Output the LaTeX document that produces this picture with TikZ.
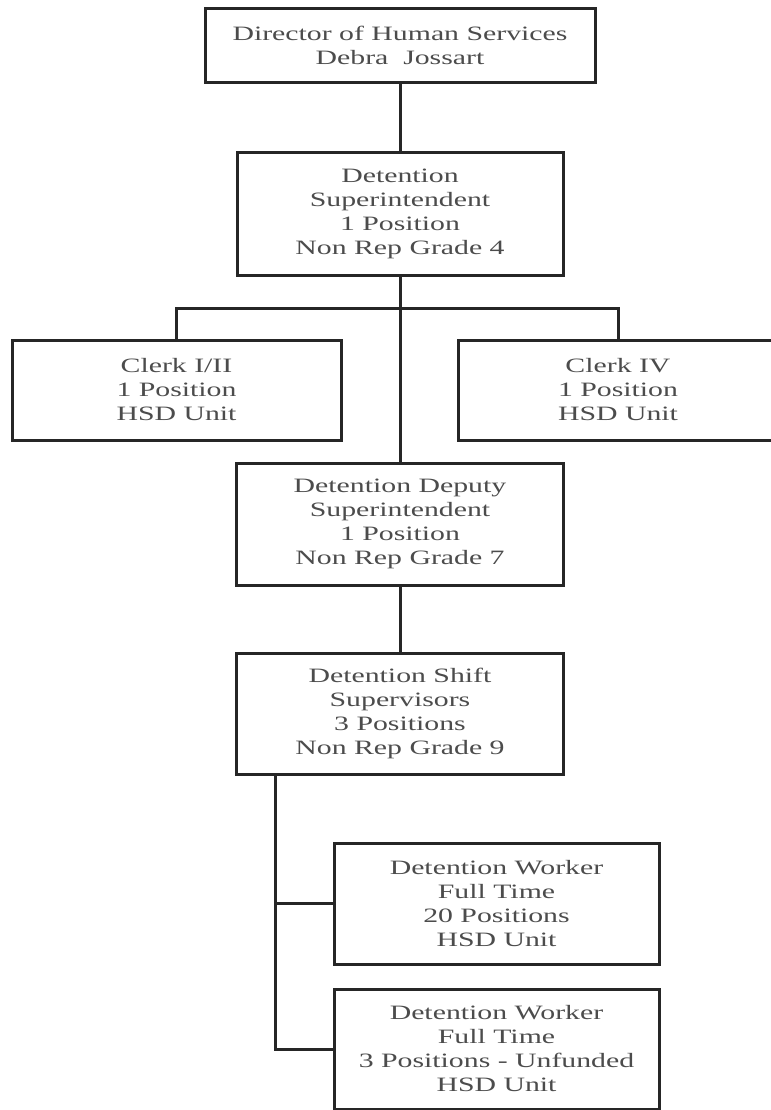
\documentclass[tikz,border=0pt]{standalone}
\usepackage{fontspec}
\newfontfamily\orgfont[FakeStretch=1.46]{Liberation Serif}

\begin{document}
\begin{tikzpicture}[x=0.5pt, y=-0.5pt,
                    post/.style={rectangle, draw=black!85, line width=1.5pt, text=black!70,
                                 align=center, inner sep=0pt,
                                 font=\orgfont\fontsize{10.2}{12}\selectfont},
                    link/.style={draw=black!85, line width=1.5pt}]

    \fill[white] (0,0) rectangle (771,1110);
    \useasboundingbox (0,0) rectangle (771,1110);

    % top of the chain
    \node[post, minimum width=195pt, minimum height=37pt]   (dir)    at (400,45)    {Director of Human Services\\Debra\ \ Jossart};
    \node[post, minimum width=163pt, minimum height=61.5pt] (sup)    at (400,213.5) {Detention\\Superintendent\\1 Position\\Non Rep Grade 4};

    % clerks hang off the bar
    \node[post, minimum width=164.5pt, minimum height=50pt] (clerkA) at (176.5,390) {Clerk I/II\\1 Position\\HSD Unit};
    \node[post, minimum width=160pt, minimum height=50pt]   (clerkB) at (618,390)   {Clerk IV\\1 Position\\HSD Unit};

    \node[post, minimum width=163.5pt, minimum height=61pt] (deputy) at (400,524)   {Detention Deputy\\Superintendent\\1 Position\\Non Rep Grade 7};
    \node[post, minimum width=163.5pt, minimum height=60.5pt] (shift) at (400,713.5) {Detention Shift\\Supervisors\\3 Positions\\Non Rep Grade 9};

    % workers
    \node[post, minimum width=162.5pt, minimum height=60.5pt] (workA) at (496.5,903.5) {Detention Worker\\Full Time\\20 Positions\\HSD Unit};
    \node[post, minimum width=162.5pt, minimum height=60pt]   (workB) at (496.5,1049)  {Detention Worker\\Full Time\\3 Positions - Unfunded\\HSD Unit};

    \coordinate (hub)  at (400,308);
    \coordinate (drop) at ([xshift=20pt]shift.south west);

    \draw[link] (dir) -- (sup);
    \draw[link] (sup) -- (deputy);
    \draw[link] (clerkA.north) |- (hub) -| (clerkB.north);
    \draw[link] (deputy) -- (shift);
    \draw[link] (drop) |- (workA.west);
    \draw[link] (drop) |- (workB.west);
\end{tikzpicture}
\end{document}
